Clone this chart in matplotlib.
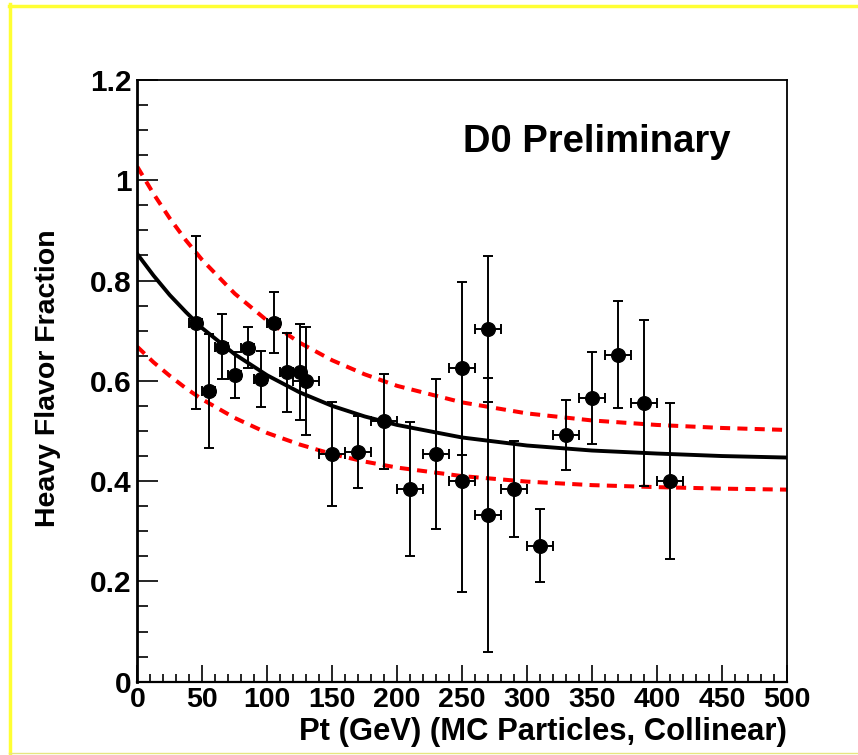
import matplotlib
matplotlib.use("Agg")
import matplotlib.pyplot as plt
from matplotlib.lines import Line2D
from matplotlib.ticker import MultipleLocator

plt.rcParams["font.family"] = ["Liberation Sans", "DejaVu Sans"]
plt.rcParams["font.weight"] = "bold"

# measured points: Pt bin centre, half-width, fraction, error
pt = [45, 55, 65, 75, 85, 95, 105, 115, 125, 130, 150, 170, 190, 210, 230,
      250, 250, 270, 270, 290, 310, 330, 350, 370, 390, 410]
pt_err = [5, 5, 5, 5, 5, 5, 5, 5, 5, 10, 10, 10, 10, 10, 10,
          10, 10, 10, 10, 10, 10, 10, 10, 10, 10, 10]
frac = [0.716, 0.580, 0.668, 0.612, 0.666, 0.603, 0.716, 0.617, 0.618, 0.600,
        0.454, 0.458, 0.519, 0.384, 0.454, 0.625, 0.400, 0.703, 0.332, 0.384,
        0.271, 0.492, 0.566, 0.652, 0.556, 0.400]
frac_err = [0.172, 0.113, 0.065, 0.046, 0.041, 0.056, 0.061, 0.079, 0.096, 0.108,
            0.104, 0.072, 0.095, 0.134, 0.150, 0.172, 0.221, 0.145, 0.273, 0.096,
            0.073, 0.070, 0.091, 0.107, 0.165, 0.155]

# fit curve and its +-1 sigma band
curve_pt = [0, 12.5, 25, 37.5, 50, 75, 100, 125, 150, 175, 200, 250, 300, 350, 400, 450, 500]
fit = [0.853, 0.810, 0.771, 0.737, 0.705, 0.653, 0.611, 0.577, 0.550, 0.529,
       0.512, 0.487, 0.471, 0.461, 0.455, 0.450, 0.447]
fit_hi = [1.027, 0.973, 0.924, 0.880, 0.841, 0.774, 0.720, 0.676, 0.641, 0.613,
          0.590, 0.557, 0.535, 0.521, 0.512, 0.506, 0.502]
fit_lo = [0.668, 0.637, 0.610, 0.585, 0.563, 0.526, 0.496, 0.473, 0.454, 0.439,
          0.427, 0.410, 0.399, 0.392, 0.388, 0.385, 0.383]

fig = plt.figure(figsize=(8.58, 7.55), dpi=100)
ax = fig.add_axes([0.1600, 0.0971, 0.7570, 0.7970])

ax.plot(curve_pt, fit_hi, color="red", lw=2.9, dashes=(2.5, 1.8), zorder=2)
ax.plot(curve_pt, fit_lo, color="red", lw=2.9, dashes=(2.5, 1.8), zorder=2)
ax.plot(curve_pt, fit, color="black", lw=2.8, zorder=3)
ax.errorbar(pt, frac, xerr=pt_err, yerr=frac_err, fmt="o", color="black",
            ms=9.8, elinewidth=1.4, capsize=3.3, capthick=1.4, zorder=4)

ax.set_xlim(0, 500)
ax.set_ylim(0, 1.2)
ax.xaxis.set_major_locator(MultipleLocator(50))
ax.xaxis.set_minor_locator(MultipleLocator(10))
ax.yaxis.set_minor_locator(MultipleLocator(0.05))
ax.set_yticks([0, 0.2, 0.4, 0.6, 0.8, 1.0, 1.2])
ax.set_yticklabels(["0", "0.2", "0.4", "0.6", "0.8", "1", "1.2"])

ax.tick_params(axis="x", which="major", direction="in", length=12, width=1.2,
               labelsize=20.5, pad=4, top=False)
ax.tick_params(axis="x", which="minor", direction="in", length=6, width=1.2, top=False)
ax.tick_params(axis="y", which="major", direction="in", length=15, width=1.2,
               labelsize=21.5, pad=4, right=False)
ax.tick_params(axis="y", which="minor", direction="in", length=8, width=1.2, right=False)
for lab in ax.get_xticklabels() + ax.get_yticklabels():
    lab.set_fontweight("bold")

ax.spines["left"].set_linewidth(2.0)
ax.spines["bottom"].set_linewidth(1.6)
ax.spines["top"].set_linewidth(1.3)
ax.spines["right"].set_linewidth(1.3)

ax.set_xlabel("Pt (GeV) (MC Particles, Collinear)", fontsize=22.3, fontweight="bold",
              ha="right")
ax.xaxis.set_label_coords(1.0, -0.058)
ax.set_ylabel("Heavy Flavor Fraction", fontsize=20.5, fontweight="bold")
ax.yaxis.set_label_coords(-0.117, 0.505)

ax.text(251, 1.057, "D0 Preliminary", fontsize=27.5, fontweight="bold",
        ha="left", va="baseline")

# yellow page border
fig.add_artist(Line2D([9 / 858, 1.0], [1 - 5.5 / 755] * 2, color="#ffff33", lw=2.5))
fig.add_artist(Line2D([9.5 / 858] * 2, [0, 1 - 4 / 755], color="#ffff33", lw=2.5))
fig.add_artist(Line2D([9 / 858, 1.0], [1 - 753 / 755] * 2, color="#e6e680", lw=1.0))

fig.savefig("out.png", dpi=100)
